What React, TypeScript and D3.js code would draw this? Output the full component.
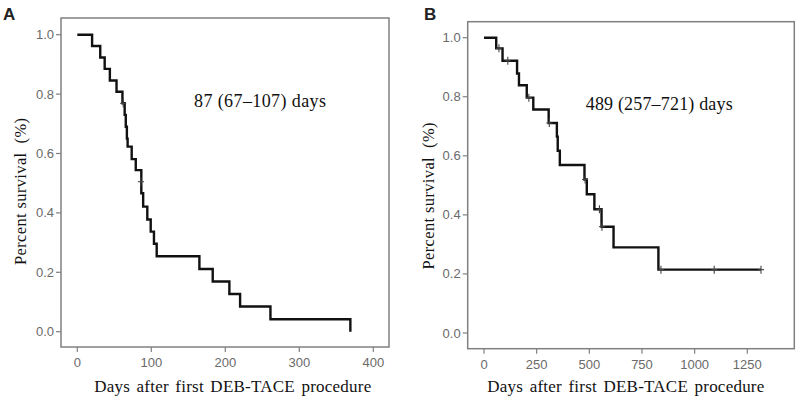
import React from "react";
import * as d3 from "d3";

// ---- Panel A data (days, survival after event) ----
const aEventDays = [0, 20, 31, 37, 44, 53, 61, 64, 65.5, 67, 68, 73.5, 79, 86.5, 89, 94.6, 99.2, 103.6, 107.3, 165, 183, 205.5, 220, 261, 369];
const aSurvival = [1.0, 0.962, 0.923, 0.885, 0.846, 0.808, 0.769, 0.73, 0.69, 0.65, 0.623, 0.581, 0.544, 0.466, 0.421, 0.378, 0.337, 0.296, 0.254, 0.211, 0.169, 0.127, 0.085, 0.042, 0.0];
const aCensorDays = [62, 86];
const aCensorSurv = [0.769, 0.505];
const aXTicks = [0, 100, 200, 300, 400];
const aMedianText = "87 (67\u2013107) days";

// ---- Panel B data ----
const bEventDays = [0, 58, 88, 157, 166, 203, 234, 307, 346, 350, 360, 477, 488, 524, 558, 615, 828, 1315];
const bSurvival = [1.0, 0.964, 0.922, 0.879, 0.839, 0.797, 0.757, 0.711, 0.665, 0.617, 0.569, 0.52, 0.47, 0.419, 0.36, 0.29, 0.2145, 0.2145];
const bCensorDays = [71, 113, 213, 310, 480, 548, 560, 840, 1093, 1315];
const bCensorSurv = [0.964, 0.922, 0.797, 0.711, 0.52, 0.419, 0.36, 0.2145, 0.2145, 0.2145];
const bXTicks = [0, 250, 500, 750, 1000, 1250];
const bMedianText = "489 (257\u2013721) days";

const yTicks = [0, 0.2, 0.4, 0.6, 0.8, 1.0];
const xTitle = "Days after first DEB-TACE procedure";
const yTitle = "Percent survival  (%)";

type PanelProps = {
  label: string;
  labelX: number;
  frame: { x0: number; x1: number; y0: number; y1: number };
  xDomain: [number, number];
  xRange: [number, number];
  yRange: [number, number];
  xTicks: number[];
  days: number[];
  surv: number[];
  cDays: number[];
  cSurv: number[];
  median: string;
  medianX: number;
  medianY: number;
  medianLen: number;
  titleX: number;
  yLabelX: number;
  yLabelY: number;
};

function Panel(p: PanelProps) {
  const x = d3.scaleLinear().domain(p.xDomain).range(p.xRange);
  const y = d3.scaleLinear().domain([0, 1]).range(p.yRange);
  const pts: [number, number][] = p.days.map((d, i) => [d, p.surv[i]]);
  const line = d3
    .line<[number, number]>()
    .x((d) => x(d[0]))
    .y((d) => y(d[1]))
    .curve(d3.curveStepAfter);
  const fmt = d3.format(".1f");
  const { x0, x1, y0, y1 } = p.frame;
  const grey = "#808080";
  return (
    <g>
      <text x={p.labelX} y={20} fontFamily="Liberation Sans, Arial, sans-serif" fontWeight="bold" fontSize={17} fill="#222">
        {p.label}
      </text>
      <rect x={x0} y={y0} width={x1 - x0} height={y1 - y0} fill="none" stroke={grey} strokeWidth={1.5} />
      {yTicks.map((t) => (
        <g key={"y" + t}>
          <line x1={x0 - 5} x2={x0} y1={y(t)} y2={y(t)} stroke={grey} strokeWidth={1.2} />
          <text x={x0 - 7} y={y(t) + 4.5} textAnchor="end" fontFamily="Liberation Sans, Arial, sans-serif" fontSize={13} fill="#6a6a6a">
            {fmt(t)}
          </text>
        </g>
      ))}
      {p.xTicks.map((t) => (
        <g key={"x" + t}>
          <line x1={x(t)} x2={x(t)} y1={y1} y2={y1 + 5} stroke={grey} strokeWidth={1.2} />
          <text x={x(t)} y={y1 + 20} textAnchor="middle" fontFamily="Liberation Sans, Arial, sans-serif" fontSize={13} fill="#6a6a6a">
            {t}
          </text>
        </g>
      ))}
      <path d={line(pts) || ""} fill="none" stroke="#111" strokeWidth={2.4} />
      {p.cDays.map((d, i) => (
        <g key={"c" + i}>
          <line x1={x(d)} x2={x(d)} y1={y(p.cSurv[i]) - 4} y2={y(p.cSurv[i]) + 4} stroke="#444" strokeWidth={1.1} />
          <line x1={x(d) - 3} x2={x(d) + 3} y1={y(p.cSurv[i])} y2={y(p.cSurv[i])} stroke="#444" strokeWidth={1.1} />
        </g>
      ))}
      <text
        x={p.medianX}
        y={p.medianY}
        fontFamily="Liberation Serif, Times New Roman, serif"
        fontSize={18}
        fill="#111"
        textLength={p.medianLen}
        lengthAdjust="spacing"
      >
        {p.median}
      </text>
      <text
        x={p.titleX}
        y={392}
        textAnchor="middle"
        fontFamily="Liberation Serif, Times New Roman, serif"
        fontSize={17}
        fill="#111"
        textLength={277}
        lengthAdjust="spacing"
        style={{ wordSpacing: "2px" }}
      >
        {xTitle}
      </text>
      <text
        transform={`translate(${p.yLabelX},${p.yLabelY}) rotate(-90)`}
        textAnchor="middle"
        fontFamily="Liberation Serif, Times New Roman, serif"
        fontSize={16.5}
        fill="#111"
        textLength={147}
        lengthAdjust="spacing"
        style={{ whiteSpace: "pre" }}
      >
        {yTitle}
      </text>
    </g>
  );
}

export default function App() {
  return (
    <svg width={800} height={400} style={{ position: "absolute", left: 0, top: 0, background: "#fff" }}>
      <rect x={0} y={0} width={800} height={400} fill="#fff" />
      <Panel
        label="A"
        labelX={3}
        frame={{ x0: 61, x1: 389, y0: 18, y1: 347 }}
        xDomain={[0, 400]}
        xRange={[77.3, 373.3]}
        yRange={[331.7, 34.7]}
        xTicks={aXTicks}
        days={aEventDays}
        surv={aSurvival}
        cDays={aCensorDays}
        cSurv={aCensorSurv}
        median={aMedianText}
        medianX={194}
        medianY={107}
        medianLen={132}
        titleX={232.7}
        yLabelX={26}
        yLabelY={191.5}
      />
      <Panel
        label="B"
        labelX={424}
        frame={{ x0: 467.7, x1: 794.3, y0: 21.7, y1: 348.7 }}
        xDomain={[0, 1250]}
        xRange={[484, 747.3]}
        yRange={[333, 37.7]}
        xTicks={bXTicks}
        days={bEventDays}
        surv={bSurvival}
        cDays={bCensorDays}
        cSurv={bCensorSurv}
        median={bMedianText}
        medianX={585.7}
        medianY={110}
        medianLen={147}
        titleX={625.8}
        yLabelX={434}
        yLabelY={196}
      />
    </svg>
  );
}
